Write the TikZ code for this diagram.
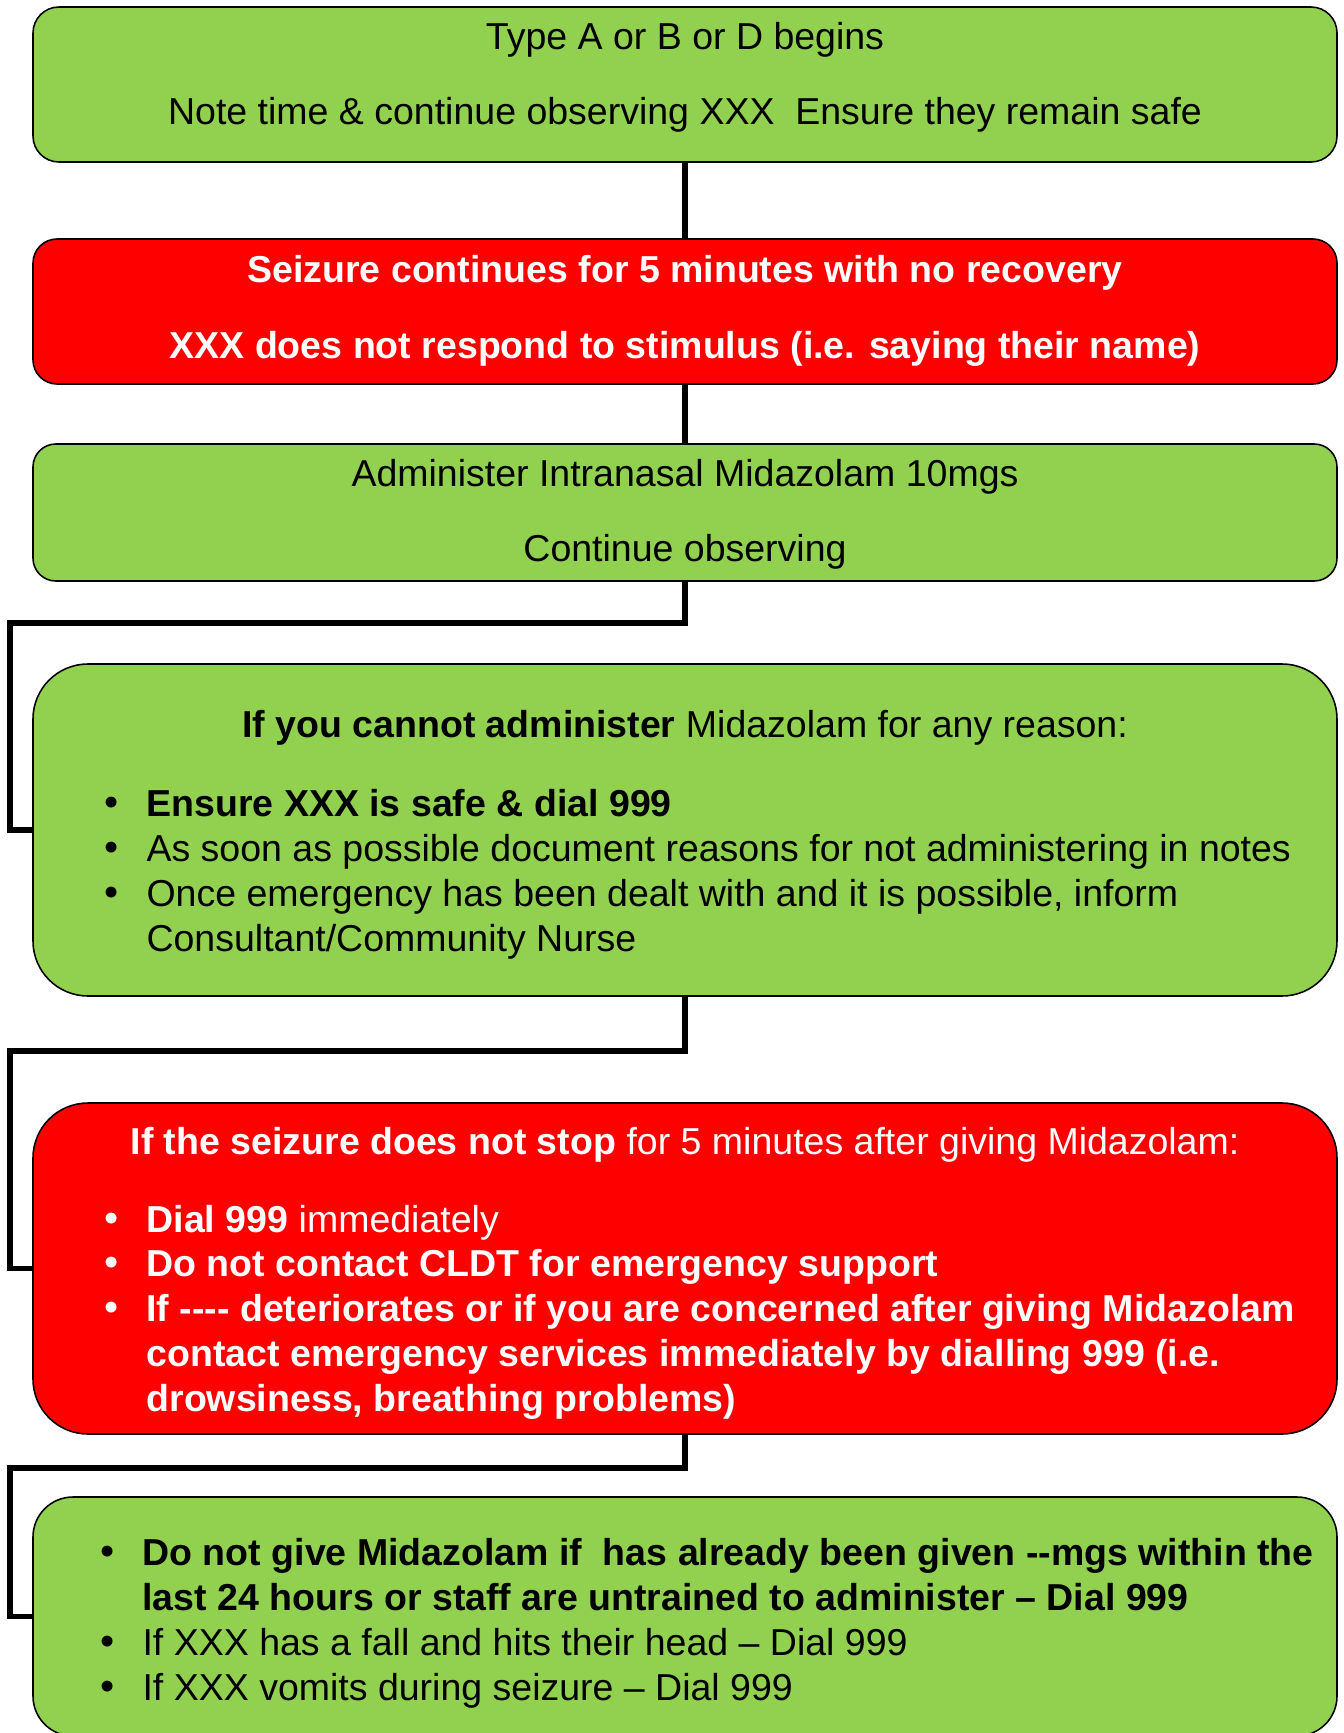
\documentclass[tikz,border=0pt]{standalone}
\usepackage{fontspec}
\setmainfont{Liberation Sans}
\newfontfamily\bulletfont{DejaVu Sans}
\usetikzlibrary{fit}

\definecolor{boxgreen}{HTML}{92D050}
\definecolor{boxred}{HTML}{FF0000}

\newcommand{\itembul}{\makebox[14.7pt][l]{\bulletfont •}}
\newcommand{\itemgap}{\hspace*{14.7pt}}

\begin{document}
\begin{tikzpicture}
        [x=0.32pt,y=-0.32pt,
         font=\fontsize{12}{14.3}\selectfont,
         box/.style={draw=black,line width=0.5pt,inner sep=0pt},
         greenbox/.style={box,fill=boxgreen},
         redbox/.style={box,fill=boxred},
         txt/.style={anchor=base,inner sep=0pt},
         list/.style={anchor=base west,align=left,inner sep=0pt},
         link/.style={line width=1.9pt}]
        \useasboundingbox (0,0) rectangle (1344,1733);

        \node[greenbox,rounded corners=8.3pt,fit={(33,7) (1337,162)}] (box1) {};
        \node[redbox,rounded corners=7.7pt,fit={(33,239) (1337,384)}] (box2) {};
        \node[greenbox,rounded corners=7.3pt,fit={(33,444) (1337,581)}] (box3) {};
        \node[greenbox,rounded corners=17.6pt,fit={(33,664) (1337,996)}] (box4) {};
        \node[redbox,rounded corners=17.6pt,fit={(33,1103) (1337,1434)}] (box5) {};
        \node[greenbox,rounded corners=12.8pt,fit={(33,1497) (1337,1736)}] (box6) {};

        \coordinate (rail) at (10,0);
        \draw[link] (box1.south) -- (box2.north);
        \draw[link] (box2.south) -- (box3.north);
        \draw[link] (box3.south) -- ++(0,41) -| (box4.west -| rail) -- (box4.west);
        \draw[link] (box4.south) -- ++(0,54) -| (box5.west -| rail) -- (box5.west);
        \draw[link] (box5.south) -- ++(0,33) -| (box6.west -| rail) -- (box6.west);

        \node[txt] (begins) at (685,50) {Type A or B or D begins};
        \node[txt] (note) at (685,125) {Note time \& continue observing XXX\ \ Ensure they remain safe};

        \node[txt,text=white,font=\fontsize{12}{14.3}\selectfont\bfseries] (seizure) at (685,282)
          {Seizure continues for 5 minutes with no recovery};
        \node[txt,text=white,font=\fontsize{12}{14.3}\selectfont\bfseries] (respond) at (685,358)
          {XXX does not respond to stimulus (i.e. saying their name)};

        \node[txt] (administer) at (685,486) {Administer Intranasal Midazolam 10mgs};
        \node[txt] (observe) at (685,561) {Continue observing};

        % lists sit on the baseline of their last line
        \node[txt] (cannot) at (685,737) {\textbf{If you cannot administer} Midazolam for any reason:};
        \node[list] (cannotlist) at (100,951)
          {\itembul\textbf{Ensure XXX is safe \& dial 999}\\
           \itembul As soon as possible document reasons for not administering in notes\\
           \itembul Once emergency has been dealt with and it is possible, inform\\
           \itemgap Consultant/Community Nurse};

        \node[txt,text=white] (nostop) at (685,1154)
          {\textbf{If the seizure does not stop} for 5 minutes after giving Midazolam:};
        \node[list,text=white] (nostoplist) at (100,1411)
          {\itembul\textbf{Dial 999} immediately\\
           \itembul\textbf{Do not contact CLDT for emergency support}\\
           \itembul\textbf{If -{}-{}-{}- deteriorates or if you are concerned after giving Midazolam}\\
           \itemgap\textbf{contact emergency services immediately by dialling 999 (i.e.}\\
           \itemgap\textbf{drowsiness, breathing problems)}};

        \node[list] (dontlist) at (96,1700)
          {\itembul\textbf{Do not give Midazolam if\ \ has already been given -{}-mgs within the}\\
           \itemgap\textbf{last 24 hours or staff are untrained to administer – Dial 999}\\
           \itembul If XXX has a fall and hits their head – Dial 999\\
           \itembul If XXX vomits during seizure – Dial 999};
      \end{tikzpicture}
\end{document}
